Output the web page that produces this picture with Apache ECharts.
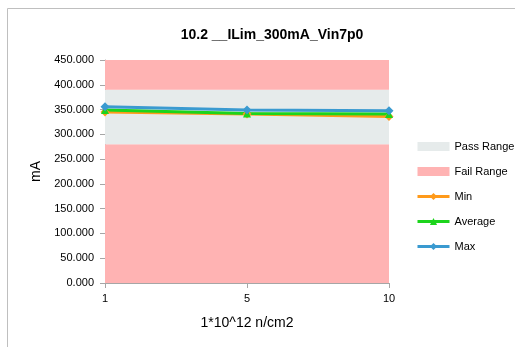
<!DOCTYPE html>
<html><head><meta charset="utf-8">
<script src="https://cdn.jsdelivr.net/npm/echarts@6/dist/echarts.min.js"></script>
<style>html,body{margin:0;padding:0;background:#fff}#c{width:515px;height:347px}</style>
</head><body><div id="c"></div>
<script>
const categories = ['1', '5', '10'];
const passLow = [280, 280, 280];
const passHigh = [390, 390, 390];
const axisMax = 450;
const minVals = [345, 341, 336];
const avgVals = [349, 342, 341];
const maxVals = [355.5, 349, 347.5];
const yTicks = [0, 50, 100, 150, 200, 250, 300, 350, 400, 450];

const FONT = 'Liberation Sans';
const chart = echarts.init(document.getElementById('c'));
const passWidth = passHigh.map((v, i) => v - passLow[i]);
const failTop = passHigh.map(v => axisMax - v);

function bandSeries(name, data, color) {
  return { name, type: 'line', stack: 'band', data, symbol: 'none', silent: true,
    lineStyle: { width: 0 }, areaStyle: { color, opacity: 1 }, itemStyle: { color }, z: 1 };
}
function lineSeries(name, data, color, symbol) {
  return { name, type: 'line', data, symbol, symbolSize: symbol === 'triangle' ? 8 : 9,
    lineStyle: { width: 3, color }, itemStyle: { color }, z: 5 };
}

chart.setOption({
  animation: false,
  textStyle: { fontFamily: FONT },
  title: { text: '10.2 __ILim_300mA_Vin7p0', left: 267, top: 23, textAlign: 'center',
    textStyle: { fontSize: 14, fontWeight: 'bold', color: '#000', fontFamily: FONT } },
  graphic: [{ type: 'rect', shape: { x: 7.5, y: 8.5, width: 520, height: 350 },
    style: { fill: null, stroke: '#bfbfbf', lineWidth: 1 }, silent: true }],
  grid: { left: 105, right: 126, top: 60, bottom: 64 },
  legend: {
    orient: 'vertical', left: 411, top: 136, itemGap: 14, itemWidth: 32, itemHeight: 9,
    textStyle: { fontSize: 11, color: '#000', fontFamily: FONT },
    data: [
      { name: 'Pass Range', icon: 'rect' },
      { name: 'Fail Range', icon: 'rect' },
      { name: 'Min', lineStyle: { width: 3 } },
      { name: 'Average', lineStyle: { width: 3 } },
      { name: 'Max', lineStyle: { width: 3 } }
    ]
  },
  xAxis: {
    type: 'category', data: categories, boundaryGap: false,
    name: '1*10^12 n/cm2', nameLocation: 'middle', nameGap: 33,
    nameTextStyle: { fontSize: 14, color: '#000' },
    axisLine: { lineStyle: { color: '#a6a6a6' } },
    axisTick: { show: true, alignWithLabel: true, lineStyle: { color: '#a6a6a6' } },
    axisLabel: { fontSize: 11, color: '#000', margin: 10 },
    splitLine: { show: false }
  },
  yAxis: {
    type: 'value', min: 0, max: axisMax, interval: 50,
    name: 'mA', nameLocation: 'middle', nameGap: 60, nameRotate: 90,
    nameTextStyle: { fontSize: 14, color: '#000' },
    axisLine: { show: true, lineStyle: { color: '#a6a6a6' } },
    axisTick: { show: true, length: 5, lineStyle: { color: '#a6a6a6' } },
    axisLabel: { fontSize: 11, color: '#000', margin: 11,
      formatter: v => yTicks.includes(v) ? v.toFixed(3) : '' },
    splitLine: { show: false }
  },
  series: [
    bandSeries('Fail Range', passLow, '#FFB3B3'),
    bandSeries('Pass Range', passWidth, '#E6EBEB'),
    bandSeries('Fail Range', failTop, '#FFB3B3'),
    lineSeries('Min', minVals, '#FF9A1A', 'diamond'),
    lineSeries('Average', avgVals, '#1CD41C', 'triangle'),
    lineSeries('Max', maxVals, '#3A9AD0', 'diamond')
  ]
});
</script></body></html>
